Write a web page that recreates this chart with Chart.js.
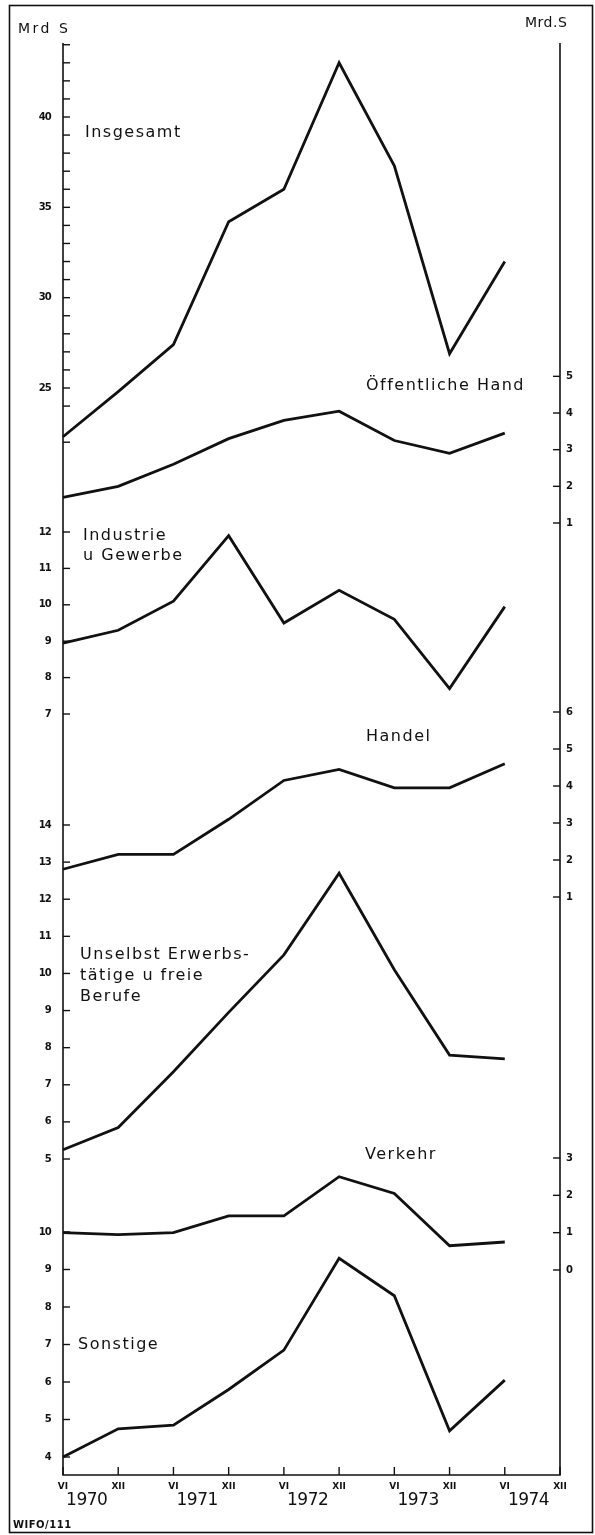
<!DOCTYPE html>
<html><head><meta charset="utf-8">
<script src="https://cdn.jsdelivr.net/npm/chart.js@4/dist/chart.umd.min.js"></script>
<style>html,body{margin:0;padding:0;background:#fff}#wrap{width:595px;height:1535px;position:relative}</style>
</head><body><div id="wrap"><canvas id="c"></canvas></div>
<script>
// ---- data ----
const periods = ['VI','XII','VI','XII','VI','XII','VI','XII','VI','XII'];
const years = ['1970','1971','1972','1973','1974'];
const insgesamt        = [22.3, 24.8, 27.4, 34.2, 36.0, 43.0, 37.3, 26.9, 32.0];
const oeffentlicheHand = [1.7, 2.0, 2.6, 3.3, 3.8, 4.05, 3.25, 2.9, 3.45];
const industrie        = [8.95, 9.3, 10.1, 11.9, 9.5, 10.4, 9.6, 7.7, 9.95];
const handel           = [1.75, 2.15, 2.15, 3.1, 4.15, 4.45, 3.95, 3.95, 4.6];
const unselbst         = [5.25, 5.85, 7.35, 8.95, 10.5, 12.7, 10.1, 7.8, 7.7];
const verkehr          = [1.0, 0.95, 1.0, 1.45, 1.45, 2.5, 2.05, 0.65, 0.75];
const sonstige         = [4.0, 4.75, 4.85, 5.8, 6.85, 9.3, 8.3, 4.7, 6.05];

const insgesamtTicks = [25, 30, 35, 40];
const insgesamtMinor = [22, 24, 26, 27, 28, 29, 31, 32, 33, 34, 36, 37, 38, 39, 41, 42, 43, 44];
const oeffTicks = [1, 2, 3, 4, 5];
const industrieTicks = [7, 8, 9, 10, 11, 12];
const handelTicks = [1, 2, 3, 4, 5, 6];
const unselbstTicks = [5, 6, 7, 8, 9, 10, 11, 12, 13, 14];
const verkehrTicks = [0, 1, 2, 3];
const sonstigeTicks = [4, 5, 6, 7, 8, 9, 10];

// ---- layout (pixel calibration of each panel's axis, chart area) ----
const AREA = {left: 63, right: 560, top: 40, bottom: 1475};
const panels = [
  {id:'y0', data: insgesamt, ticks: insgesamtTicks, minor: insgesamtMinor, side:'left', cal:[40,117,25,388],
   label:[['Insgesamt',85,133]]},
  {id:'y1', data: oeffentlicheHand, ticks: oeffTicks, minor: [], side:'right', cal:[4,413,1,523],
   label:[['Öffentliche Hand',366,386]]},
  {id:'y2', data: industrie, ticks: industrieTicks, minor: [], side:'left', cal:[12,532,7,714],
   label:[['Industrie',83,536],['u Gewerbe',83,556]]},
  {id:'y3', data: handel, ticks: handelTicks, minor: [], side:'right', cal:[6,712,1,897],
   label:[['Handel',366,737]]},
  {id:'y4', data: unselbst, ticks: unselbstTicks, minor: [], side:'left', cal:[14,825,5,1159],
   label:[['Unselbst Erwerbs-',80,955],['tätige u freie',80,976],['Berufe',80,997]]},
  {id:'y5', data: verkehr, ticks: verkehrTicks, minor: [], side:'right', cal:[3,1158,0,1270],
   label:[['Verkehr',365,1155]]},
  {id:'y6', data: sonstige, ticks: sonstigeTicks, minor: [], side:'left', cal:[10,1232,4,1457],
   label:[['Sonstige',78,1345]]}
];

function rangeFor(cal){
  const [v1,p1,v2,p2] = cal;
  const k = (p2 - p1) / (v1 - v2); // px per unit
  return {min: v2 - (AREA.bottom - p2) / k, max: v1 + (p1 - AREA.top) / k};
}

const scales = {
  x: {type:'category', labels: periods, display:false, offset:false}
};
panels.forEach(p => {
  const r = rangeFor(p.cal);
  scales[p.id] = {type:'linear', display:false, min:r.min, max:r.max};
});

const INK = '#111';
const FONT = '"DejaVu Sans", "Liberation Sans", sans-serif';

const overlay = {
  id:'overlay',
  afterDraw(chart){
    const ctx = chart.ctx;
    const ca = chart.chartArea;
    const xs = chart.scales.x;
    ctx.save();
    ctx.strokeStyle = INK; ctx.fillStyle = INK;
    ctx.lineCap = 'butt';
    // frame
    ctx.lineWidth = 1.6;
    ctx.strokeRect(9.5, 5.5, 583, 1527);
    // axes
    ctx.lineWidth = 1.6;
    ctx.beginPath();
    ctx.moveTo(ca.left, 43); ctx.lineTo(ca.left, ca.bottom);
    ctx.lineTo(ca.right, ca.bottom); ctx.lineTo(ca.right, 43);
    ctx.stroke();
    // x ticks + labels
    ctx.lineWidth = 1.4;
    ctx.font = 'bold 9px ' + FONT;
    ctx.textAlign = 'center'; ctx.textBaseline = 'middle';
    periods.forEach((lab, i) => {
      const px = xs.getPixelForValue(i);
      ctx.beginPath(); ctx.moveTo(px, ca.bottom); ctx.lineTo(px, ca.bottom - 8); ctx.stroke();
      ctx.fillText(lab, px, ca.bottom + 12);
    });
    ctx.font = '17px ' + FONT;
    ctx.letterSpacing = '-0.5px';
    years.forEach((y, j) => {
      const px = xs.getPixelForValue(2 * j + 0.43);
      ctx.fillText(y, px, ca.bottom + 26);
    });
    ctx.letterSpacing = '0px';
    // y axes
    panels.forEach(p => {
      const s = chart.scales[p.id];
      const left = p.side === 'left';
      const ax = left ? ca.left : ca.right;
      const dir = left ? 1 : -1;
      ctx.lineWidth = 1.4;
      const all = p.ticks.concat(p.minor);
      all.forEach(v => {
        const py = s.getPixelForValue(v);
        ctx.beginPath(); ctx.moveTo(ax, py); ctx.lineTo(ax + dir * 7, py); ctx.stroke();
      });
      ctx.font = 'bold 10px ' + FONT;
      ctx.letterSpacing = '-0.8px';
      ctx.textBaseline = 'middle';
      ctx.textAlign = left ? 'right' : 'left';
      p.ticks.forEach(v => {
        const py = s.getPixelForValue(v);
        ctx.fillText(String(v), left ? ax - 12 : ax + 6, py);
      });
      // series labels
      ctx.font = '16px ' + FONT;
      ctx.letterSpacing = '1.5px';
      ctx.textAlign = 'left';
      p.label.forEach(([t, x, y]) => ctx.fillText(t, x, y));
      ctx.letterSpacing = '0px';
    });
    // units
    ctx.font = '14px ' + FONT;
    ctx.textBaseline = 'alphabetic';
    ctx.textAlign = 'left';
    ctx.letterSpacing = '2.5px';
    ctx.fillText('Mrd S', 18, 33);
    ctx.letterSpacing = '0.5px';
    ctx.fillText('Mrd.S', 525, 27);
    // source
    ctx.font = 'bold 10px ' + FONT;
    ctx.letterSpacing = '0.5px';
    ctx.fillText('WIFO/111', 13, 1528);
    ctx.letterSpacing = '0px';
    ctx.restore();
  }
};

new Chart(document.getElementById('c'), {
  type:'line',
  data:{
    labels: periods,
    datasets: panels.map(p => ({
      data: p.data, yAxisID: p.id, borderColor: INK, borderWidth: 2.8,
      pointRadius: 0, tension: 0, fill: false, borderJoinStyle: 'miter'
    }))
  },
  options:{
    responsive:true, maintainAspectRatio:false, animation:false,
    layout:{padding:{left:AREA.left, right:595 - AREA.right, top:AREA.top, bottom:1535 - AREA.bottom}},
    plugins:{legend:{display:false}, tooltip:{enabled:false}},
    scales: scales
  },
  plugins:[overlay]
});
</script>
</body></html>
